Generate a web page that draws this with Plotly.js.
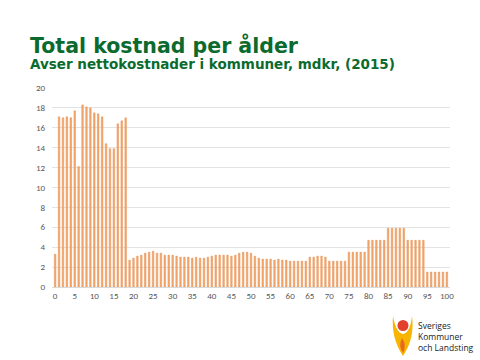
<!DOCTYPE html>
<html><head><meta charset="utf-8">
<script src="https://cdn.plot.ly/plotly-3.0.1.min.js"></script>
<style>html,body{margin:0;padding:0;background:#fff}#c{width:480px;height:360px}</style>
</head><body><div id="c"></div>
<script>
const ages = Array.from({length:101}, (_, i) => i);
const cost = [
 3.3, 17.1, 17.0, 17.1, 17.0, 17.7, 12.1, 18.3, 18.1, 18.0,
 17.5, 17.4, 17.1, 14.4, 13.9, 13.9, 16.4, 16.7, 17.0, 2.7,
 2.9, 3.1, 3.2, 3.4, 3.5, 3.6, 3.4, 3.4, 3.2, 3.2,
 3.2, 3.1, 3.0, 3.0, 3.0, 2.9, 3.0, 2.9, 2.9, 3.0,
 3.1, 3.2, 3.2, 3.2, 3.2, 3.1, 3.2, 3.4, 3.5, 3.5,
 3.4, 3.1, 2.9, 2.8, 2.8, 2.8, 2.7, 2.8, 2.7, 2.7,
 2.6, 2.6, 2.6, 2.6, 2.6, 3.0, 3.0, 3.1, 3.1, 3.0,
 2.6, 2.6, 2.6, 2.6, 2.6, 3.5, 3.5, 3.5, 3.5, 3.5,
 4.7, 4.7, 4.7, 4.7, 4.7, 5.9, 5.9, 5.9, 5.9, 5.9,
 4.7, 4.7, 4.7, 4.7, 4.7, 1.5, 1.5, 1.5, 1.5, 1.5, 1.5
];
const xTicks = [0,5,10,15,20,25,30,35,40,45,50,55,60,65,70,75,80,85,90,95,100];
const yTicks = [0,2,4,6,8,10,12,14,16,18,20];
const title = 'Total kostnad per ålder';
const subtitle = 'Avser nettokostnader i kommuner, mdkr, (2015)';
const logoLines = ['Sveriges', 'Kommuner', 'och Landsting'];

const ML = 52, MR = 30, MT = 88, MB = 73, W = 480, H = 360;
const PW = W - ML - MR, PH = H - MT - MB;
const px = x => ((x - ML) / PW).toFixed(4);
const py = y => ((H - MB - y) / PH).toFixed(4);

const trace = {
  type: 'bar', x: ages, y: cost, width: 0.4,
  marker: {color: '#F3AD76', line: {color: '#E27A30', width: 0.4}},
  hoverinfo: 'x+y'
};
const tickFont = {family: 'Calibri, Carlito, "Liberation Sans", sans-serif', size: 9, color: '#595959'};
const green = '#0B6B2F';
const layout = {
  width: W, height: H,
  margin: {l: ML, r: MR, t: MT, b: MB},
  paper_bgcolor: '#fff', plot_bgcolor: '#fff',
  showlegend: false,
  xaxis: {range: [-0.8, 100.8], tickvals: xTicks, ticktext: xTicks.map(String), showgrid: false,
    zeroline: false, showline: true, linecolor: '#D9D9D9', linewidth: 1, ticks: '', tickfont: tickFont, fixedrange: true},
  yaxis: {range: [0, 20], tickvals: yTicks, ticktext: yTicks.map(String), showgrid: true, gridcolor: '#E3E3E3', gridwidth: 1,
    zeroline: false, showline: false, ticks: '', ticklabelstandoff: 6, tickfont: tickFont, fixedrange: true},
  annotations: [
    {text: '<b>' + title + '</b>', xref: 'paper', yref: 'paper', x: -0.055, y: 1.0, xanchor: 'left', yanchor: 'bottom',
     xshift: -2, yshift: 28, showarrow: false, font: {family: 'Verdana, "DejaVu Sans", sans-serif', size: 20.5, color: green}},
    {text: '<b>' + subtitle + '</b>', xref: 'paper', yref: 'paper', x: -0.055, y: 1.0, xanchor: 'left', yanchor: 'bottom',
     xshift: -2, yshift: 14, showarrow: false, font: {family: 'Verdana, "DejaVu Sans", sans-serif', size: 13.5, color: green}},
    {text: logoLines.join('<br>'), xref: 'paper', yref: 'paper', x: +px(416), y: +py(318), xanchor: 'left', yanchor: 'top', align: 'left',
     showarrow: false, font: {family: '"Open Sans", sans-serif', size: 8.5, color: '#222'}}
  ],
  shapes: [
    {type: 'path', xref: 'paper', yref: 'paper',
     path: `M ${px(393)} ${py(316)} Q ${px(391)} ${py(338)} ${px(403)} ${py(356)} Q ${px(415)} ${py(338)} ${px(412)} ${py(316)} Q ${px(410)} ${py(333)} ${px(403)} ${py(334)} Q ${px(396)} ${py(333)} ${px(393)} ${py(316)} Z`,
     fillcolor: '#F7B500', line: {width: 0}},
    {type: 'circle', xref: 'paper', yref: 'paper', x0: +px(397.5), x1: +px(408.5), y0: +py(331), y1: +py(320), fillcolor: '#E2402B', line: {width: 0}},
    {type: 'path', xref: 'paper', yref: 'paper',
     path: `M ${px(402)} ${py(338)} Q ${px(398)} ${py(346)} ${px(403)} ${py(353)} Q ${px(407)} ${py(345)} ${px(402)} ${py(338)} Z`,
     fillcolor: '#E8691E', line: {width: 0}}
  ]
};
Plotly.newPlot('c', [trace], layout, {displayModeBar: false, staticPlot: true});
</script></body></html>
